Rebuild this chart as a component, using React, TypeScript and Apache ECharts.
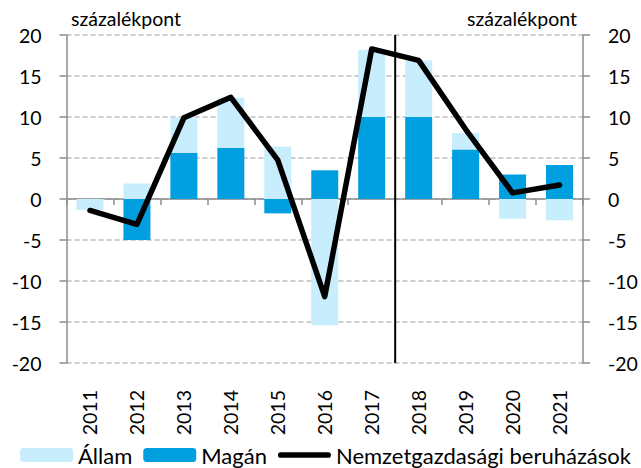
import React, { useEffect, useRef } from "react";
import * as echarts from "echarts";

const categories = ["2011", "2012", "2013", "2014", "2015", "2016", "2017", "2018", "2019", "2020", "2021"];
const allam = [-1.35, 1.9, 4.3, 6.1, 6.4, -15.4, 8.2, 6.9, 2.0, -2.4, -2.6];
const magan = [0, -5.0, 5.65, 6.25, -1.75, 3.5, 10.0, 10.0, 6.05, 3.0, 4.15];
const total = [-1.4, -3.1, 9.9, 12.4, 4.75, -11.9, 18.3, 16.9, 8.5, 0.75, 1.7];
const yTicks = { min: -20, max: 20, interval: 5 };
const dividerAt = 6.5; // between 2017 and 2018
const unitLabel = "százalékpont";

const FONT = "Lato";
const GREY = "#8c8c8c";
const LINE_ICON = "path://M3,0 L53,0 A3,3 0 0 1 53,6 L3,6 A3,3 0 0 1 3,0 Z";

export default function App() {
  const ref = useRef<HTMLDivElement>(null);
  useEffect(() => {
    if (!ref.current) return;
    const chart = echarts.init(ref.current, null, { renderer: "svg" });
    const yAxisCommon = {
      type: "value",
      min: yTicks.min,
      max: yTicks.max,
      interval: yTicks.interval,
      axisLine: { show: true, onZero: false, lineStyle: { color: GREY, width: 1.5 } },
      axisTick: { show: true, length: 7, lineStyle: { color: GREY, width: 1.5 } },
      axisLabel: { color: "#000", fontFamily: FONT, fontSize: 19.5, margin: 25 },
    };
    chart.setOption({
      animation: false,
      textStyle: { fontFamily: FONT },
      grid: { left: 66.5, right: 58, top: 35, bottom: 105, containLabel: false },
      xAxis: [
        {
          type: "category",
          data: categories,
          axisLine: { onZero: true, lineStyle: { color: GREY, width: 1.5 } },
          axisTick: { show: true, length: 6, lineStyle: { color: GREY, width: 1.5 } },
          axisLabel: { show: false },
          splitLine: { show: false },
        },
        {
          type: "category",
          data: categories,
          position: "bottom",
          axisLine: { show: false, onZero: false },
          axisTick: { show: false },
          axisLabel: { rotate: 90, color: "#000", fontFamily: FONT, fontSize: 19.5, margin: 27 },
          splitLine: { show: false },
        },
        {
          type: "value",
          min: -0.5,
          max: categories.length - 0.5,
          show: false,
        },
      ],
      yAxis: [
        {
          ...yAxisCommon,
          position: "left",
          splitLine: { show: true, lineStyle: { color: "#bdbdbd", width: 1.5, type: [5, 3] } },
        },
        {
          ...yAxisCommon,
          position: "right",
          splitLine: { show: false },
        },
      ],
      legend: {
        data: [
          { name: "Állam" },
          { name: "Magán" },
          { name: "Nemzetgazdasági beruházások", icon: LINE_ICON },
        ],
        left: 20,
        top: 444,
        itemWidth: 53,
        itemHeight: 14,
        itemGap: 11,
        symbolKeepAspect: true,
        textStyle: { color: "#000", fontFamily: FONT, fontSize: 22, lineHeight: 20, padding: 0 },
        padding: 0,
      },
      graphic: [
        {
          type: "text",
          left: 71,
          top: 8,
          style: { text: unitLabel, fontFamily: FONT, fontSize: 19.5, fill: "#000" },
        },
        {
          type: "text",
          right: 641 - 577,
          top: 8,
          style: { text: unitLabel, fontFamily: FONT, fontSize: 19.5, fill: "#000" },
        },
      ],
      series: [
        {
          name: "Magán",
          type: "bar",
          stack: "s",
          data: magan,
          barWidth: 27,
          itemStyle: { color: "#009FE0" },
        },
        {
          name: "Állam",
          type: "bar",
          stack: "s",
          data: allam,
          barWidth: 27,
          itemStyle: { color: "#C8EDFC" },
        },
        {
          name: "divider",
          type: "line",
          xAxisIndex: 2,
          data: [
            [dividerAt, yTicks.min],
            [dividerAt, yTicks.max],
          ],
          symbol: "none",
          lineStyle: { color: "#000", width: 2 },
          silent: true,
        },
        {
          name: "Nemzetgazdasági beruházások",
          type: "line",
          data: total,
          symbol: "none",
          lineStyle: { color: "#000", width: 5.5, cap: "round", join: "round" },
          itemStyle: { color: "#000" },
          z: 5,
        },
      ],
    });
    return () => chart.dispose();
  }, []);
  return <div ref={ref} style={{ width: 641, height: 468, position: "absolute", left: 0, top: 0 }} />;
}
